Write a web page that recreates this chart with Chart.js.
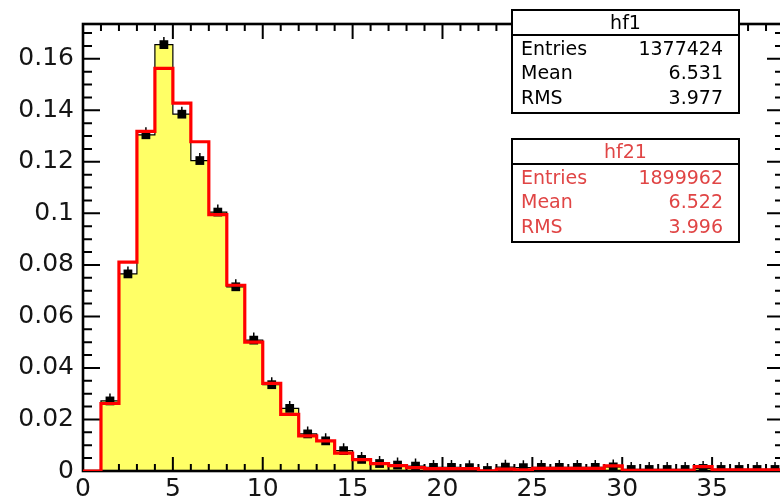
<!DOCTYPE html>
<html>
<head>
<meta charset="utf-8">
<script src="https://cdn.jsdelivr.net/npm/chart.js@4.4.1/dist/chart.umd.min.js"></script>
<style>
  html, body { margin: 0; padding: 0; background: #fff; overflow: hidden; }
  #wrap { width: 800px; height: 504px; }
</style>
</head>
<body>
<div id="wrap"><canvas id="hist"></canvas></div>
<script>
// bin low edges, one unit wide; the last entry closes the final bin
const binEdges = [0, 1, 2, 3, 4, 5, 6, 7, 8, 9, 10, 11, 12, 13, 14, 15, 16, 17, 18, 19,
  20, 21, 22, 23, 24, 25, 26, 27, 28, 29, 30, 31, 32, 33, 34, 35, 36, 37, 38, 39];

// hf1 (yellow + markers), normalised
const hf1Values = [0, 0.0272, 0.0765, 0.1305, 0.1655, 0.1385, 0.1205, 0.1005, 0.0715, 0.0508,
  0.0335, 0.0243, 0.0144, 0.0117, 0.0079, 0.0045, 0.0029, 0.0023, 0.0019, 0.0014,
  0.0014, 0.0013, 0.0002, 0.0015, 0.0013, 0.0014, 0.0014, 0.0014, 0.0014, 0.0016,
  0.0006, 0.0006, 0.0006, 0.0006, 0.0010, 0.0006, 0.0006, 0.0006, 0.0006];

// hf21 (red outline), normalised
const hf21Values = [0, 0.0262, 0.0811, 0.1318, 0.1563, 0.1428, 0.1278, 0.0995, 0.0721, 0.0500,
  0.0340, 0.0220, 0.0136, 0.0117, 0.0069, 0.0044, 0.0029, 0.0021, 0.0013, 0.0009,
  0.0009, 0.0009, 0.0001, 0.0007, 0.0004, 0.0010, 0.0010, 0.0010, 0.0010, 0.0020,
  0.0003, 0.0003, 0.0003, 0.0003, 0.0017, 0.0004, 0.0004, 0.0004, 0.0004];

const xTickValues = [0, 5, 10, 15, 20, 25, 30, 35];
const yTickValues = [0, 0.02, 0.04, 0.06, 0.08, 0.1, 0.12, 0.14, 0.16];

const statNames = ["Entries", "Mean", "RMS"];
const hf1Stats = ["1377424", "6.531", "3.977"];
const hf21Stats = ["1899962", "6.522", "3.996"];

const X_MAX = 39;
const Y_MAX = 0.1735;
const FONT = "'DejaVu Sans', sans-serif";

// step outline: each value holds from its edge to the next one
function stepPoints(vals) {
  const pts = vals.map((v, i) => ({ x: binEdges[i], y: v }));
  pts.push({ x: binEdges[vals.length], y: vals[vals.length - 1] });
  return pts;
}

const markerPoints = hf1Values.map((v, i) => ({
  x: (binEdges[i] + binEdges[i + 1]) / 2,
  y: v > 0 ? v : null
}));

// frame + inward ticks (ROOT style), error nubs, stats boxes
const rootStyle = {
  id: "rootStyle",
  afterDatasetDraw(chart, args) {
    const ctx = chart.ctx;
    const a = chart.chartArea;
    const xs = chart.scales.x, ys = chart.scales.y;
    if (args.index === 2) {
      ctx.save();
      ctx.strokeStyle = "#000";
      ctx.lineWidth = 2;
      ctx.beginPath();
      for (let v = 0; v <= X_MAX; v++) {
        const px = xs.getPixelForValue(v);
        const big = v % 5 === 0;
        ctx.moveTo(px, a.bottom); ctx.lineTo(px, a.bottom - (big ? 14 : 7));
        ctx.moveTo(px, a.top); ctx.lineTo(px, a.top + (big ? 15 : 7));
      }
      for (let k = 0; k * 0.005 <= Y_MAX; k++) {
        const py = ys.getPixelForValue(k * 0.005);
        const len = k % 4 === 0 ? 17 : 9;
        ctx.moveTo(a.left, py); ctx.lineTo(a.left + len, py);
        ctx.moveTo(a.right, py); ctx.lineTo(a.right - len, py);
      }
      ctx.stroke();
      ctx.lineWidth = 2.6;
      ctx.strokeRect(a.left, a.top, a.right - a.left, a.bottom - a.top);
      ctx.restore();
    }
    if (args.index === 1) {
      ctx.save();
      ctx.strokeStyle = "#000";
      ctx.lineWidth = 1.5;
      ctx.beginPath();
      args.meta.data.forEach((pt, i) => {
        if (markerPoints[i].y === null) return;
        ctx.moveTo(pt.x, pt.y - 7.5); ctx.lineTo(pt.x, pt.y);
      });
      ctx.stroke();
      ctx.restore();
    }
  },
  afterDraw(chart) {
    const ctx = chart.ctx;
    function box(top, title, vals, color) {
      const x0 = 512, x1 = 739;
      ctx.save();
      ctx.fillStyle = "#fff";
      ctx.fillRect(x0, top, x1 - x0, 103);
      ctx.strokeStyle = "#000";
      ctx.lineWidth = 2;
      ctx.strokeRect(x0, top, x1 - x0, 103);
      ctx.beginPath();
      ctx.moveTo(x0, top + 25); ctx.lineTo(x1, top + 25);
      ctx.stroke();
      ctx.fillStyle = color;
      ctx.font = "19px " + FONT;
      ctx.textBaseline = "middle";
      ctx.textAlign = "center";
      ctx.fillText(title, (x0 + x1) / 2, top + 14);
      statNames.forEach((n, i) => {
        const y = top + 40 + i * 24.5;
        ctx.textAlign = "left";
        ctx.fillText(n, 521, y);
        ctx.textAlign = "right";
        ctx.fillText(vals[i], 723, y);
      });
      ctx.restore();
    }
    box(10, "hf1", hf1Stats, "#000");
    box(139, "hf21", hf21Stats, "#e04545");
  }
};

new Chart(document.getElementById("hist"), {
  data: {
    datasets: [
      {
        type: "line",
        label: "hf21",
        data: stepPoints(hf21Values),
        stepped: "before",
        borderColor: "#ff0000",
        borderWidth: 3.2,
        pointRadius: 0,
        fill: false,
        order: 0
      },
      {
        type: "scatter",
        label: "hf1 points",
        data: markerPoints,
        pointStyle: "rect",
        pointRadius: 6.2,
        backgroundColor: "#000",
        borderWidth: 0,
        order: 1
      },
      {
        type: "line",
        label: "hf1",
        data: stepPoints(hf1Values),
        stepped: "before",
        borderColor: "#000",
        borderWidth: 1.2,
        backgroundColor: "#ffff66",
        pointRadius: 0,
        fill: "origin",
        order: 2
      }
    ]
  },
  options: {
    responsive: true,
    maintainAspectRatio: false,
    animation: false,
    events: [],
    layout: { padding: { top: 11, right: 16, left: 0, bottom: 0 } },
    plugins: { legend: { display: false }, tooltip: { enabled: false } },
    scales: {
      x: {
        type: "linear",
        min: 0,
        max: X_MAX,
        grid: { display: false, drawTicks: false },
        border: { display: false },
        afterBuildTicks: s => { s.ticks = xTickValues.map(v => ({ value: v })); },
        afterFit: s => { s.height = 33; },
        ticks: {
          padding: 3,
          maxRotation: 0,
          autoSkip: false,
          color: "#151515",
          font: { family: FONT, size: 25 }
        }
      },
      y: {
        type: "linear",
        min: 0,
        max: Y_MAX,
        grid: { display: false, drawTicks: false },
        border: { display: false },
        afterBuildTicks: s => { s.ticks = yTickValues.map(v => ({ value: v })); },
        afterFit: s => { s.width = 83; },
        ticks: {
          padding: 9,
          color: "#151515",
          font: { family: FONT, size: 25 },
          callback: v => String(+v.toFixed(3))
        }
      }
    }
  },
  plugins: [rootStyle]
});
</script>
</body>
</html>
